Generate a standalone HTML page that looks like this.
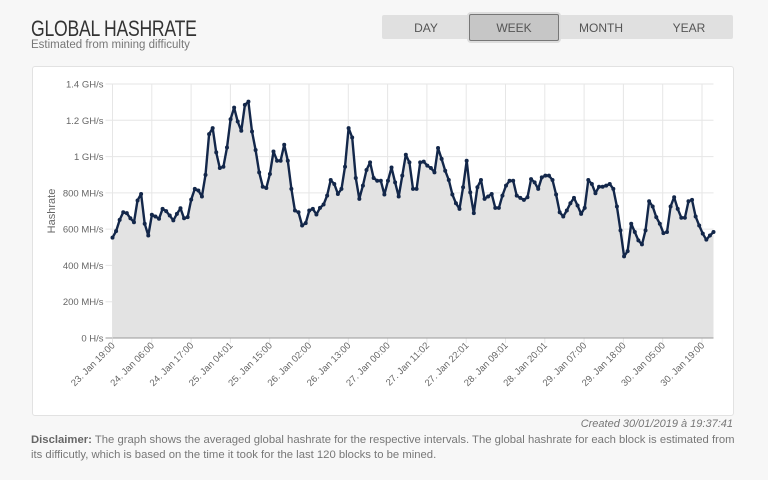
<!DOCTYPE html>
<html><head><meta charset="utf-8">
<style>
body{margin:0;width:768px;height:480px;background:#f7f7f7;font-family:"Liberation Sans",sans-serif;overflow:hidden;position:relative}
.title{position:absolute;left:31px;top:16px;font-size:22px;color:#333;letter-spacing:-0.3px;transform:scaleX(0.8);transform-origin:0 0;white-space:nowrap}
.sub{position:absolute;left:31px;top:39px;font-size:11.5px;color:#777}
.tabs{position:absolute;left:382px;top:15px;width:351px;height:24px;background:#e0e0e0;border-radius:2px}
.tab{position:absolute;top:0;height:24px;line-height:26px;font-size:12px;color:#555;text-align:center;width:88px}
.tab.active{background:#c6c6c6;border:1px solid #777;border-radius:2px;top:-1px;height:25px;box-shadow:0 0 0 2px #ddd}
.panel{position:absolute;left:32px;top:66px;width:700px;height:348px;background:#fff;border:1px solid #e2e2e2;border-radius:3px}
.created{position:absolute;right:35px;top:418px;font-size:11px;color:#777;font-style:italic}
.disc{position:absolute;left:31px;top:433px;width:710px;font-size:11.3px;color:#777;line-height:15px}
.disc b{color:#666}
</style></head><body>
<div class="title">GLOBAL HASHRATE</div>
<div class="sub">Estimated from mining difficulty</div>
<div class="tabs">
<div class="tab" style="left:0">DAY</div>
<div class="tab active" style="left:87px">WEEK</div>
<div class="tab" style="left:175px">MONTH</div>
<div class="tab" style="left:263px">YEAR</div>
</div>
<div class="panel"></div>
<svg id="chart" width="768" height="480" style="position:absolute;left:0;top:0"></svg>
<div class="created">Created 30/01/2019 à 19:37:41</div>
<div class="disc"><b>Disclaimer:</b> The graph shows the averaged global hashrate for the respective intervals. The global hashrate for each block is estimated from its difficutly, which is based on the time it took for the last 120 blocks to be mined.</div>
<script>
const xLabels=["23. Jan 19:00","24. Jan 06:00","24. Jan 17:00","25. Jan 04:01","25. Jan 15:00","26. Jan 02:00","26. Jan 13:00","27. Jan 00:00","27. Jan 11:02","27. Jan 22:01","28. Jan 09:01","28. Jan 20:01","29. Jan 07:00","29. Jan 18:00","30. Jan 05:00","30. Jan 19:00"];
const yTicks=[0,200,400,600,800,1000,1200,1400];
const yTickLabels=["0 H/s","200 MH/s","400 MH/s","600 MH/s","800 MH/s","1 GH/s","1.2 GH/s","1.4 GH/s"];
const hashrate=[553,589,651,693,688,660,638,758,794,630,565,679,670,657,712,699,675,648,684,715,660,666,763,822,813,780,899,1124,1157,1023,937,944,1050,1206,1270,1193,1142,1285,1303,1138,1036,913,834,827,904,1028,977,977,1065,977,822,703,693,620,633,703,712,681,717,736,785,871,849,794,822,944,1157,1105,882,767,840,926,968,882,867,867,791,867,940,858,780,895,1010,968,
822,822,968,972,950,937,913,1047,987,922,871,791,743,712,831,977,803,688,831,871,767,780,794,717,717,785,840,867,867,785,772,761,776,876,858,822,885,895,895,871,791,693,670,703,743,772,730,684,717,871,849,798,834,834,840,849,822,725,593,450,479,630,584,538,516,593,754,725,666,630,578,584,725,776,712,663,663,754,761,670,620,575,542,565,584];
const X0=112.5,X1=713.5,Y0=338,Y1=84,YMAX=1400,LABW=39.3;
const xPt=i=>X0+(X1-X0)*i/(hashrate.length-1);
const yv=v=>Y0-(Y0-Y1)*v/YMAX;
const NS="http://www.w3.org/2000/svg";
const svg=document.getElementById('chart');
function mk(t,a){const e=document.createElementNS(NS,t);for(const k in a)e.setAttribute(k,a[k]);svg.appendChild(e);return e;}
yTicks.forEach((v,i)=>{
 const g=mk('line',{x1:X0-7,x2:X1,y1:yv(v),y2:yv(v),stroke:i==0?'#999':'#e6e6e6','stroke-width':1});
 
 
 const t=mk('text',{x:X0-9,y:yv(v)+3.5,'text-anchor':'end','font-size':9.5,fill:'#666'});
 t.textContent=yTickLabels[i];
 
 
});
xLabels.forEach((l,i)=>{
 const x=X0+i*LABW;
 const g=mk('line',{x1:x,x2:x,y1:Y1,y2:Y0+5,stroke:'#e6e6e6','stroke-width':1});
 
 
 const t=mk('text',{x:x+3,y:Y0+8,'text-anchor':'end','font-size':9.5,fill:'#666',transform:`rotate(-45 ${x+3} ${Y0+8})`});
 t.textContent=l;
 
 
});
const yt=mk('text',{x:55,y:211,'text-anchor':'middle','font-size':11,fill:'#666',transform:'rotate(-90 55 211)'});
yt.textContent='Hashrate';


let d='';hashrate.forEach((v,i)=>{d+=(i?'L':'M')+xPt(i).toFixed(1)+' '+yv(v).toFixed(1)});
const area=mk('path',{d:d+`L${X1} ${Y0}L${X0} ${Y0}Z`,fill:'#e3e3e3'});


const ax=mk('line',{x1:X0,x2:X1,y1:Y0,y2:Y0,stroke:'#999'});


const line=mk('path',{d:d,fill:'none',stroke:'#13274a','stroke-width':2.4,'stroke-linejoin':'round'});


hashrate.forEach((v,i)=>{
 const c=mk('circle',{cx:xPt(i),cy:yv(v),r:2,fill:'#13274a'});
 
 
});
</script>
</body></html>
